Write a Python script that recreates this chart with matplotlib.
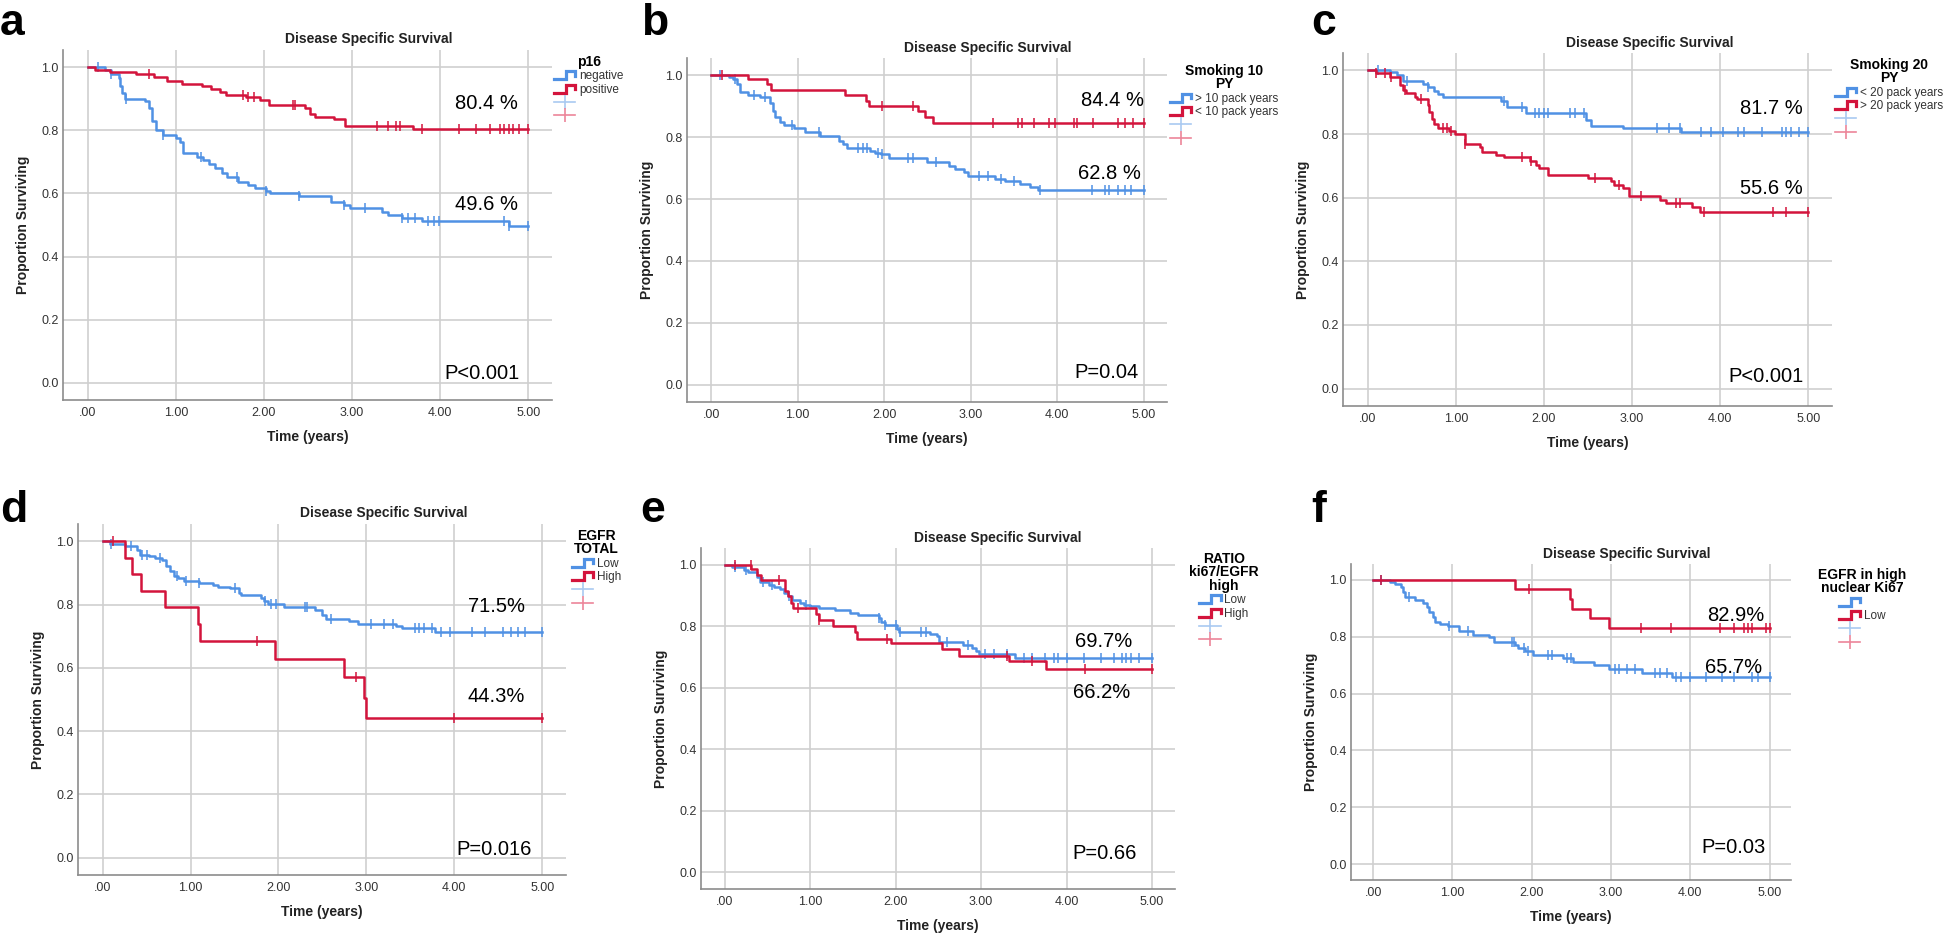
import numpy as np
import matplotlib
matplotlib.use('Agg')
import matplotlib.pyplot as plt
from matplotlib.lines import Line2D
from matplotlib.legend_handler import HandlerBase

plt.rcParams['font.family'] = 'Liberation Sans'

BLUE, RED = '#5091e4', '#d3143c'
BLUE_LT, RED_LT = '#a9c9f1', '#ec8599'
W, H = 1944, 933

# ---- a: p16 (blue = negative, red = positive)
a_blue_t = [0.20, 0.27, 0.35, 0.37, 0.39, 0.42, 0.65, 0.70, 0.73, 0.77, 0.85, 1.00, 1.05, 1.08, 1.24, 1.31, 1.38,
            1.45, 1.52, 1.58, 1.71, 1.82, 1.90, 2.02, 2.07, 2.40, 2.76, 2.91, 2.98, 3.34, 3.41, 3.57, 3.79, 4.78]
a_blue_s = [0.99, 0.98, 0.965, 0.94, 0.92, 0.90, 0.893, 0.87, 0.83, 0.80, 0.785, 0.775, 0.764, 0.727, 0.716, 0.706,
            0.695, 0.68, 0.664, 0.651, 0.637, 0.627, 0.616, 0.609, 0.603, 0.592, 0.574, 0.564, 0.553, 0.54, 0.532,
            0.522, 0.512, 0.496]
a_blue_c = [0.12, 0.27, 0.44, 0.86, 1.29, 1.69, 2.02, 2.40, 2.91, 3.15, 3.57, 3.64, 3.71, 3.86, 3.93, 3.99, 4.73,
            4.78, 5.0]
a_red_t = [0.08, 0.25, 0.55, 0.75, 0.90, 1.07, 1.30, 1.40, 1.50, 1.57, 1.80, 1.96, 2.06, 2.47, 2.52, 2.58, 2.80,
           2.92, 3.69]
a_red_s = [0.993, 0.985, 0.978, 0.97, 0.957, 0.948, 0.94, 0.93, 0.922, 0.913, 0.905, 0.896, 0.882, 0.872, 0.852,
           0.843, 0.835, 0.815, 0.804]
a_red_c = [0.70, 1.76, 1.82, 1.89, 2.33, 2.35, 3.28, 3.41, 3.50, 3.55, 3.79, 4.21, 4.41, 4.57, 4.68, 4.73, 4.78,
           4.83, 4.90, 5.0]

# ---- b: Smoking 10 PY (blue = >10, red = <10)
b_blue_t = [0.20, 0.25, 0.30, 0.33, 0.42, 0.56, 0.68, 0.71, 0.74, 0.80, 0.84, 0.96, 1.09, 1.26, 1.48, 1.52, 1.57,
            1.84, 1.89, 1.96, 2.05, 2.49, 2.75, 2.82, 2.92, 2.97, 3.28, 3.40, 3.57, 3.69, 3.78]
b_blue_s = [0.995, 0.987, 0.97, 0.945, 0.935, 0.928, 0.91, 0.885, 0.864, 0.85, 0.84, 0.83, 0.815, 0.803, 0.788,
            0.777, 0.766, 0.756, 0.75, 0.745, 0.731, 0.718, 0.707, 0.696, 0.686, 0.673, 0.664, 0.657, 0.648, 0.64,
            0.628]
b_blue_c = [0.10, 0.28, 0.50, 0.62, 0.93, 1.25, 1.70, 1.75, 1.80, 1.93, 1.98, 2.27, 2.33, 2.60, 3.10, 3.20, 3.35,
            3.50, 3.80, 4.40, 4.55, 4.60, 4.70, 4.78, 4.85, 5.0]
b_red_t = [0.43, 0.64, 0.69, 1.55, 1.79, 1.82, 2.39, 2.47, 2.56]
b_red_s = [0.987, 0.970, 0.951, 0.935, 0.917, 0.90, 0.885, 0.865, 0.844]
b_red_c = [0.13, 1.98, 2.33, 3.26, 3.55, 3.59, 3.73, 3.90, 3.98, 4.19, 4.23, 4.41, 4.70, 4.79, 4.88, 5.0]

# ---- c: Smoking 20 PY (blue = <20, red = >20)
c_blue_t = [0.25, 0.33, 0.40, 0.63, 0.68, 0.75, 0.80, 0.86, 1.51, 1.58, 1.80, 2.48, 2.54, 2.90, 3.56]
c_blue_s = [0.994, 0.986, 0.966, 0.958, 0.948, 0.937, 0.927, 0.918, 0.905, 0.885, 0.866, 0.845, 0.827, 0.818, 0.806]
c_blue_c = [0.12, 0.45, 0.68, 1.55, 1.75, 1.90, 1.95, 2.00, 2.05, 2.30, 2.35, 2.45, 3.28, 3.42, 3.55, 3.78, 3.90,
            4.03, 4.20, 4.27, 4.47, 4.70, 4.75, 4.80, 4.90, 5.0]
c_red_t = [0.09, 0.25, 0.37, 0.40, 0.44, 0.54, 0.56, 0.68, 0.70, 0.73, 0.75, 0.80, 0.92, 0.99, 1.10, 1.27, 1.30,
           1.46, 1.55, 1.84, 1.91, 1.95, 2.05, 2.50, 2.76, 2.80, 2.90, 2.97, 3.32, 3.39, 3.68, 3.77]
c_red_s = [0.992, 0.981, 0.955, 0.94, 0.929, 0.918, 0.91, 0.892, 0.87, 0.849, 0.832, 0.82, 0.811, 0.80, 0.769,
           0.758, 0.745, 0.735, 0.727, 0.714, 0.703, 0.693, 0.672, 0.661, 0.651, 0.64, 0.63, 0.605, 0.593, 0.582,
           0.57, 0.556]
c_red_c = [0.10, 0.20, 0.27, 0.42, 0.60, 0.85, 0.90, 0.95, 1.10, 1.75, 1.85, 2.58, 2.85, 3.10, 3.50, 3.55, 3.82,
           4.60, 4.75, 5.0]

# ---- d: EGFR TOTAL (blue = Low, red = High)
d_blue_t = [0.08, 0.25, 0.39, 0.43, 0.53, 0.60, 0.67, 0.72, 0.77, 0.81, 0.86, 0.93, 1.10, 1.26, 1.31, 1.45, 1.55,
            1.57, 1.80, 1.83, 1.88, 2.06, 2.42, 2.49, 2.54, 2.80, 2.90, 3.34, 3.41, 3.78]
d_blue_s = [0.993, 0.986, 0.974, 0.958, 0.953, 0.947, 0.94, 0.923, 0.905, 0.891, 0.884, 0.876, 0.87, 0.862, 0.857,
            0.852, 0.838, 0.831, 0.822, 0.81, 0.803, 0.792, 0.782, 0.766, 0.755, 0.747, 0.74, 0.734, 0.726, 0.715]
d_blue_c = [0.10, 0.32, 0.45, 0.50, 0.65, 0.85, 0.95, 1.10, 1.50, 1.85, 1.92, 1.97, 2.30, 2.33, 2.60, 3.05, 3.20,
            3.30, 3.55, 3.60, 3.65, 3.75, 3.85, 3.95, 4.20, 4.35, 4.55, 4.65, 4.72, 4.80, 5.0]
d_red_t = [0.25, 0.33, 0.44, 0.71, 1.08, 1.11, 1.96, 2.75, 2.97, 2.99]
d_red_s = [0.949, 0.897, 0.844, 0.792, 0.74, 0.684, 0.628, 0.57, 0.506, 0.443]
d_red_c = [0.12, 1.76, 2.88, 4.00, 5.0]

# ---- e: RATIO ki67/EGFR high (blue = Low, red = High)
e_blue_t = [0.08, 0.22, 0.27, 0.37, 0.41, 0.52, 0.57, 0.64, 0.69, 0.74, 0.78, 0.88, 0.93, 1.00, 1.10, 1.29, 1.46,
            1.56, 1.80, 1.83, 1.87, 2.02, 2.04, 2.40, 2.48, 2.51, 2.79, 2.89, 2.94, 2.98, 3.40]
e_blue_s = [0.993, 0.985, 0.977, 0.961, 0.945, 0.936, 0.928, 0.92, 0.909, 0.898, 0.887, 0.876, 0.869, 0.866, 0.86,
            0.852, 0.844, 0.836, 0.826, 0.813, 0.803, 0.792, 0.783, 0.776, 0.768, 0.748, 0.739, 0.731, 0.721, 0.709,
            0.697]
e_blue_c = [0.12, 0.25, 0.45, 0.55, 0.75, 0.95, 1.80, 1.88, 2.00, 2.05, 2.30, 2.35, 2.60, 2.85, 3.05, 3.15, 3.30,
            3.50, 3.60, 3.75, 3.85, 3.90, 4.00, 4.20, 4.40, 4.55, 4.65, 4.70, 4.75, 4.85, 5.0]
e_red_t = [0.31, 0.37, 0.42, 0.70, 0.74, 0.77, 0.80, 1.07, 1.10, 1.26, 1.52, 1.55, 1.95, 2.54, 2.74, 3.33, 3.76]
e_red_s = [0.987, 0.968, 0.95, 0.914, 0.898, 0.876, 0.86, 0.84, 0.82, 0.80, 0.78, 0.76, 0.746, 0.725, 0.705, 0.686,
           0.662]
e_red_c = [0.12, 0.30, 0.63, 0.85, 1.10, 1.90, 3.30, 3.60, 4.22, 5.0]

# ---- f: EGFR in high nuclear Ki67 (blue = unlabelled, red = Low)
f_blue_t = [0.21, 0.27, 0.35, 0.37, 0.40, 0.53, 0.63, 0.68, 0.71, 0.75, 0.78, 0.84, 0.94, 1.08, 1.26, 1.46, 1.52,
            1.79, 1.83, 1.92, 2.02, 2.39, 2.52, 2.78, 2.97, 3.39, 3.77]
f_blue_s = [0.991, 0.983, 0.974, 0.956, 0.939, 0.929, 0.917, 0.903, 0.886, 0.868, 0.853, 0.845, 0.837, 0.818, 0.807,
            0.798, 0.781, 0.772, 0.76, 0.749, 0.734, 0.726, 0.711, 0.699, 0.686, 0.672, 0.659]
f_blue_c = [0.10, 0.45, 0.95, 1.20, 1.75, 1.78, 1.90, 1.95, 2.20, 2.25, 2.45, 2.50, 3.05, 3.10, 3.20, 3.30, 3.55,
            3.62, 3.70, 3.82, 3.88, 4.00, 4.20, 4.40, 4.55, 4.78, 4.85, 5.0]
f_red_t = [1.79, 2.48, 2.51, 2.74, 2.97]
f_red_s = [0.967, 0.932, 0.897, 0.864, 0.829]
f_red_c = [0.10, 1.97, 3.38, 3.76, 4.38, 4.55, 4.68, 4.73, 4.78, 4.95, 5.0]

letters = ['a', 'b', 'c', 'd', 'e', 'f']
legend_titles = ['p16', 'Smoking 10\nPY', 'Smoking 20\nPY', 'EGFR\nTOTAL', 'RATIO\nki67/EGFR\nhigh',
                 'EGFR in high\nnuclear Ki67']
legend_labels = [['negative', 'positive'], ['> 10 pack years', '< 10 pack years'],
                 ['< 20 pack years', '> 20 pack years'], ['Low', 'High'], ['Low', 'High'], ['', 'Low']]
pct_blue = ['49.6 %', '62.8 %', '81.7 %', '71.5%', '69.7%', '65.7%']
pct_red = ['80.4 %', '84.4 %', '55.6 %', '44.3%', '66.2%', '82.9%']
p_values = ['P<0.001', 'P=0.04', 'P<0.001', 'P=0.016', 'P=0.66', 'P=0.03']
x_ticks = [0, 1, 2, 3, 4, 5]
x_ticklabels = ['.00', '1.00', '2.00', '3.00', '4.00', '5.00']
y_ticks = [0, 0.2, 0.4, 0.6, 0.8, 1.0]

curves = [
    (a_blue_t, a_blue_s, a_blue_c, a_red_t, a_red_s, a_red_c),
    (b_blue_t, b_blue_s, b_blue_c, b_red_t, b_red_s, b_red_c),
    (c_blue_t, c_blue_s, c_blue_c, c_red_t, c_red_s, c_red_c),
    (d_blue_t, d_blue_s, d_blue_c, d_red_t, d_red_s, d_red_c),
    (e_blue_t, e_blue_s, e_blue_c, e_red_t, e_red_s, e_red_c),
    (f_blue_t, f_blue_s, f_blue_c, f_red_t, f_red_s, f_red_c),
]

# layout in pixels: axes box (left, top, right, bottom), letter pos, title centre, legend corner,
# annotation positions (blue %, red %, p) in data units
boxes = [(63, 50, 552, 400), (687, 58, 1167, 402), (1343, 53, 1832, 406),
         (78, 524, 566, 875), (701, 548, 1175, 889), (1351, 564, 1791, 880)]
letter_pos = [(0, 35), (641, 35), (1311, 35), (0, 522), (640, 522), (1311, 522)]
title_pos = [(369, 39), (988, 48), (1650, 43), (384, 513), (998, 538), (1627, 554)]
legend_pos = [(554, 55), (1170, 64), (1835, 58), (572, 529), (1189, 552), (1818, 568)]
blue_pct_xy = [(4.53, 0.566), (4.60, 0.683), (4.58, 0.88), (4.48, 0.794), (4.43, 0.75), (4.55, 0.692)]
red_pct_xy = [(4.53, 0.886), (4.64, 0.919), (4.58, 0.628), (4.48, 0.51), (4.41, 0.584), (4.57, 0.874)]
p_xy = [(4.48, 0.028), (4.57, 0.04), (4.52, 0.038), (4.45, 0.025), (4.44, 0.062), (4.54, 0.06)]


class StepKey(Line2D):
    pass


class StepHandler(HandlerBase):
    def create_artists(self, legend, orig_handle, xdescent, ydescent, width, height, fontsize, trans):
        xs = -xdescent + width * np.array([0, 0.55, 0.55, 1.0, 1.0])
        ys = -ydescent + height * np.array([0.1, 0.1, 0.9, 0.9, 0.45])
        line = Line2D(xs, ys, color=orig_handle.get_color(), lw=2.3, solid_joinstyle='miter')
        line.set_transform(trans)
        return [line]


def surv_at(t, times, surv):
    idx = np.searchsorted(times, t, side='right') - 1
    vals = np.asarray(surv)[np.clip(idx, 0, None)]
    return np.where(idx < 0, 1.0, vals)


def km(ax, times, surv, cens, color):
    xs = np.r_[0, times, 5]
    ys = np.r_[1, surv, surv[-1]]
    ax.step(xs, ys, where='post', color=color, lw=1.8, zorder=3)
    cens = np.asarray(cens)
    ax.plot(cens, surv_at(cens, times, surv), ls='none', marker='|', ms=7, mew=1.1, color=color, zorder=3)


def fx(x):
    return x / W


def fy(y):
    return 1 - y / H


fig = plt.figure(figsize=(W / 100, H / 100), dpi=100)

for i in range(6):
    l, t, r, b = boxes[i]
    ax = fig.add_axes([fx(l), fy(b), (r - l) / W, (b - t) / H])
    bt, bs, bc, rt, rs, rc = curves[i]
    km(ax, bt, bs, bc, BLUE)
    km(ax, rt, rs, rc, RED)

    ax.set_xlim(-0.28, 5.27); ax.set_ylim(-0.055, 1.055)
    ax.set_xticks(x_ticks); ax.set_xticklabels(x_ticklabels)
    ax.set_yticks(y_ticks); ax.set_yticklabels([f'{v:.1f}' for v in y_ticks])
    ax.tick_params(length=0, labelsize=9, labelcolor='#333333')
    ax.tick_params(axis='x', pad=5); ax.tick_params(axis='y', pad=3)
    ax.grid(True, color='#cfcfcf', lw=1.2, zorder=0)
    ax.set_axisbelow(True)
    for s in ['top', 'right']:
        ax.spines[s].set_visible(False)
    for s in ['left', 'bottom']:
        ax.spines[s].set_color('#8c8c8c'); ax.spines[s].set_linewidth(1.2)

    ax.set_ylabel('Proportion Surviving', fontsize=10, fontweight='bold', color='#222222')
    ax.yaxis.set_label_coords(-40 / (r - l), 0.5)
    ax.set_xlabel('Time (years)', fontsize=10, fontweight='bold', color='#222222')
    ax.xaxis.set_label_coords(0.5, -37 / (b - t))
    ax.xaxis.label.set_va('center'); ax.yaxis.label.set_va('center')

    ax.text(*blue_pct_xy[i], pct_blue[i], fontsize=14.5, ha='center', va='center', color='black')
    ax.text(*red_pct_xy[i], pct_red[i], fontsize=14.5, ha='center', va='center', color='black')
    ax.text(*p_xy[i], p_values[i], fontsize=14.5, ha='center', va='center', color='black')

    handles = [StepKey([0], [0], color=BLUE), StepKey([0], [0], color=RED),
               Line2D([0], [0], color=BLUE_LT, lw=1.2, marker='|', ms=10, mew=1.2),
               Line2D([0], [0], color=RED_LT, lw=1.2, marker='|', ms=10, mew=1.2)]
    labels = legend_labels[i] + ['', '']
    lx, ly = legend_pos[i]
    leg = ax.legend(handles, labels, title=legend_titles[i], loc='upper left',
                    bbox_to_anchor=(fx(lx), fy(ly)), bbox_transform=fig.transFigure,
                    frameon=False, fontsize=8.5, borderpad=0, borderaxespad=0,
                    handlelength=1.8, handleheight=0.9, handletextpad=0.3, labelspacing=0.12,
                    title_fontproperties={'weight': 'bold', 'size': 10},
                    handler_map={StepKey: StepHandler()})
    leg.get_title().set_multialignment('center')
    leg.get_title().set_linespacing(0.95)
    for txt in leg.get_texts():
        txt.set_color('#333333')

    fig.text(fx(title_pos[i][0]), fy(title_pos[i][1]), 'Disease Specific Survival', fontsize=10,
             fontweight='bold', ha='center', va='center', color='#222222')
    fig.text(fx(letter_pos[i][0]), fy(letter_pos[i][1]), letters[i], fontsize=32, fontweight='bold',
             ha='left', va='baseline')

fig.savefig('out.png', dpi=100, facecolor='white')
plt.close(fig)
